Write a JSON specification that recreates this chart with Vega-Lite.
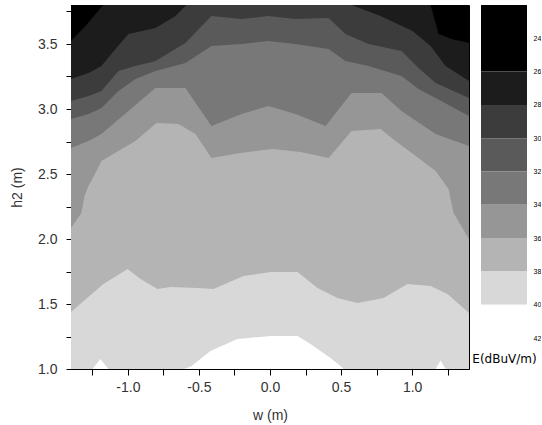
{
  "$schema": "https://vega.github.io/schema/vega-lite/v6.json",
  "background": "white",
  "padding": {"left": 10, "top": 3, "right": 0, "bottom": 0},
  "spacing": 12,
  "bounds": "flush",
  "config": {
    "font": "Liberation Sans",
    "axis": {"grid": false, "labelFont": "Liberation Sans", "titleFont": "Liberation Sans", "titleFontWeight": "normal", "labelColor": "#333", "titleColor": "#333", "domainColor": "#000", "tickColor": "#000"}
  },
  "datasets": {
    "bounds": [
      {"level": 24, "w": -1.4, "h": 3.8}, {"level": 24, "w": 1.4, "h": 3.8},
      {"level": 26, "w": -1.4, "h": 3.523}, {"level": 26, "w": -1.298, "h": 3.638}, {"level": 26, "w": -1.186, "h": 3.785}, {"level": 26, "w": -1.172, "h": 3.8}, {"level": 26, "w": 1.13, "h": 3.8}, {"level": 26, "w": 1.186, "h": 3.577}, {"level": 26, "w": 1.277, "h": 3.538}, {"level": 26, "w": 1.4, "h": 3.508},
      {"level": 28, "w": -1.4, "h": 3.231}, {"level": 28, "w": -1.277, "h": 3.277}, {"level": 28, "w": -1.186, "h": 3.331}, {"level": 28, "w": -1.087, "h": 3.462}, {"level": 28, "w": -0.996, "h": 3.577}, {"level": 28, "w": -0.806, "h": 3.623}, {"level": 28, "w": -0.665, "h": 3.715}, {"level": 28, "w": -0.588, "h": 3.8}, {"level": 28, "w": 0.574, "h": 3.8}, {"level": 28, "w": 0.778, "h": 3.715}, {"level": 28, "w": 1.003, "h": 3.6}, {"level": 28, "w": 1.13, "h": 3.485}, {"level": 28, "w": 1.235, "h": 3.331}, {"level": 28, "w": 1.4, "h": 3.215},
      {"level": 30, "w": -1.4, "h": 3.062}, {"level": 30, "w": -1.277, "h": 3.1}, {"level": 30, "w": -1.186, "h": 3.138}, {"level": 30, "w": -1.066, "h": 3.292}, {"level": 30, "w": -0.947, "h": 3.331}, {"level": 30, "w": -0.806, "h": 3.369}, {"level": 30, "w": -0.595, "h": 3.508}, {"level": 30, "w": -0.412, "h": 3.715}, {"level": 30, "w": -0.201, "h": 3.692}, {"level": 30, "w": -0.011, "h": 3.715}, {"level": 30, "w": 0.179, "h": 3.692}, {"level": 30, "w": 0.412, "h": 3.7}, {"level": 30, "w": 0.531, "h": 3.577}, {"level": 30, "w": 0.693, "h": 3.5}, {"level": 30, "w": 0.925, "h": 3.446}, {"level": 30, "w": 1.045, "h": 3.315}, {"level": 30, "w": 1.165, "h": 3.2}, {"level": 30, "w": 1.4, "h": 3.085},
      {"level": 32, "w": -1.4, "h": 2.923}, {"level": 32, "w": -1.277, "h": 2.962}, {"level": 32, "w": -1.186, "h": 3.008}, {"level": 32, "w": -1.066, "h": 3.138}, {"level": 32, "w": -0.947, "h": 3.231}, {"level": 32, "w": -0.806, "h": 3.292}, {"level": 32, "w": -0.595, "h": 3.354}, {"level": 32, "w": -0.412, "h": 3.485}, {"level": 32, "w": -0.201, "h": 3.5}, {"level": 32, "w": -0.011, "h": 3.523}, {"level": 32, "w": 0.179, "h": 3.5}, {"level": 32, "w": 0.412, "h": 3.462}, {"level": 32, "w": 0.531, "h": 3.369}, {"level": 32, "w": 0.693, "h": 3.331}, {"level": 32, "w": 0.925, "h": 3.254}, {"level": 32, "w": 1.045, "h": 3.154}, {"level": 32, "w": 1.165, "h": 3.085}, {"level": 32, "w": 1.4, "h": 2.946},
      {"level": 34, "w": -1.4, "h": 2.7}, {"level": 34, "w": -1.277, "h": 2.754}, {"level": 34, "w": -1.186, "h": 2.808}, {"level": 34, "w": -0.996, "h": 2.985}, {"level": 34, "w": -0.806, "h": 3.162}, {"level": 34, "w": -0.595, "h": 3.162}, {"level": 34, "w": -0.412, "h": 2.869}, {"level": 34, "w": -0.201, "h": 2.962}, {"level": 34, "w": -0.011, "h": 3.023}, {"level": 34, "w": 0.179, "h": 2.962}, {"level": 34, "w": 0.391, "h": 2.869}, {"level": 34, "w": 0.574, "h": 3.123}, {"level": 34, "w": 0.785, "h": 3.123}, {"level": 34, "w": 0.925, "h": 2.985}, {"level": 34, "w": 1.165, "h": 2.808}, {"level": 34, "w": 1.4, "h": 2.715},
      {"level": 36, "w": -1.4, "h": 2.085}, {"level": 36, "w": -1.327, "h": 2.2}, {"level": 36, "w": -1.305, "h": 2.331}, {"level": 36, "w": -1.277, "h": 2.408}, {"level": 36, "w": -1.228, "h": 2.508}, {"level": 36, "w": -1.186, "h": 2.6}, {"level": 36, "w": -0.947, "h": 2.754}, {"level": 36, "w": -0.799, "h": 2.892}, {"level": 36, "w": -0.644, "h": 2.885}, {"level": 36, "w": -0.524, "h": 2.808}, {"level": 36, "w": -0.412, "h": 2.623}, {"level": 36, "w": -0.208, "h": 2.662}, {"level": 36, "w": 0.018, "h": 2.692}, {"level": 36, "w": 0.215, "h": 2.669}, {"level": 36, "w": 0.412, "h": 2.623}, {"level": 36, "w": 0.574, "h": 2.831}, {"level": 36, "w": 0.778, "h": 2.846}, {"level": 36, "w": 0.883, "h": 2.754}, {"level": 36, "w": 1.045, "h": 2.623}, {"level": 36, "w": 1.165, "h": 2.523}, {"level": 36, "w": 1.256, "h": 2.385}, {"level": 36, "w": 1.291, "h": 2.2}, {"level": 36, "w": 1.4, "h": 2.0},
      {"level": 38, "w": -1.4, "h": 1.438}, {"level": 38, "w": -1.172, "h": 1.654}, {"level": 38, "w": -1.002, "h": 1.769}, {"level": 38, "w": -0.911, "h": 1.692}, {"level": 38, "w": -0.792, "h": 1.615}, {"level": 38, "w": -0.7, "h": 1.631}, {"level": 38, "w": -0.51, "h": 1.623}, {"level": 38, "w": -0.398, "h": 1.615}, {"level": 38, "w": -0.186, "h": 1.715}, {"level": 38, "w": 0.004, "h": 1.746}, {"level": 38, "w": 0.194, "h": 1.746}, {"level": 38, "w": 0.334, "h": 1.623}, {"level": 38, "w": 0.475, "h": 1.546}, {"level": 38, "w": 0.616, "h": 1.508}, {"level": 38, "w": 0.799, "h": 1.546}, {"level": 38, "w": 0.968, "h": 1.654}, {"level": 38, "w": 1.13, "h": 1.638}, {"level": 38, "w": 1.249, "h": 1.577}, {"level": 38, "w": 1.4, "h": 1.431},
      {"level": 40, "w": -1.4, "h": 1.0}, {"level": 40, "w": -1.249, "h": 1.0}, {"level": 40, "w": -1.193, "h": 1.077}, {"level": 40, "w": -1.137, "h": 1.0}, {"level": 40, "w": -0.602, "h": 1.0}, {"level": 40, "w": -0.552, "h": 1.023}, {"level": 40, "w": -0.419, "h": 1.138}, {"level": 40, "w": -0.229, "h": 1.231}, {"level": 40, "w": 0.004, "h": 1.254}, {"level": 40, "w": 0.194, "h": 1.254}, {"level": 40, "w": 0.285, "h": 1.192}, {"level": 40, "w": 0.426, "h": 1.085}, {"level": 40, "w": 0.496, "h": 1.023}, {"level": 40, "w": 0.517, "h": 1.0}, {"level": 40, "w": 1.165, "h": 1.0}, {"level": 40, "w": 1.2, "h": 1.065}, {"level": 40, "w": 1.235, "h": 1.0}, {"level": 40, "w": 1.4, "h": 1.0}
    ],
    "legendbands": [
      {"level": 24, "lo": 22, "hi": 26}, {"level": 26, "lo": 26, "hi": 28}, {"level": 28, "lo": 28, "hi": 30}, {"level": 30, "lo": 30, "hi": 32}, {"level": 32, "lo": 32, "hi": 34}, {"level": 34, "lo": 34, "hi": 36}, {"level": 36, "lo": 36, "hi": 38}, {"level": 38, "lo": 38, "hi": 40}, {"level": 40, "lo": 40, "hi": 42}
    ]
  },
  "hconcat": [
    {
      "width": 398,
      "height": 364,
      "view": {"stroke": "#000", "strokeWidth": 1},
      "data": {"name": "bounds"},
      "mark": {"type": "area", "interpolate": "linear", "clip": true},
      "encoding": {
        "x": {
          "field": "w", "type": "quantitative",
          "scale": {"domain": [-1.4, 1.4], "nice": false, "zero": false},
          "axis": {
            "title": "w (m)",
            "values": [-1.25, -1, -0.75, -0.5, -0.25, 0, 0.25, 0.5, 0.75, 1, 1.25],
            "labelExpr": "round(datum.value*2) == datum.value*2 ? replace(format(datum.value, '.1f'), '\u2212', '-') : ''",
            "tickSize": 6, "labelPadding": 5, "titlePadding": 14,
            "labelFontSize": 14, "titleFontSize": 14,
            "labelOverlap": false, "labelFlush": false
          }
        },
        "y": {
          "field": "h", "type": "quantitative",
          "scale": {"domain": [1.0, 3.8], "nice": false, "zero": false},
          "axis": {
            "title": "h2 (m)",
            "values": [1, 1.25, 1.5, 1.75, 2, 2.25, 2.5, 2.75, 3, 3.25, 3.5, 3.75],
            "labelExpr": "round(datum.value*2) == datum.value*2 ? replace(format(datum.value, '.1f'), '\u2212', '-') : ''",
            "tickSize": 5, "labelPadding": 9, "titlePadding": 13,
            "labelFontSize": 14, "titleFontSize": 14,
            "labelOverlap": false, "labelFlush": false
          }
        },
        "y2": {"datum": 1},
        "color": {
          "field": "level", "type": "ordinal",
          "scale": {"domain": [24, 26, 28, 30, 32, 34, 36, 38, 40], "range": ["#000000", "#1c1c1c", "#3c3c3c", "#5a5a5a", "#787878", "#969696", "#b4b4b4", "#d8d8d8", "#ffffff"]},
          "legend": null
        }
      }
    },
    {
      "width": 46,
      "height": 333,
      "view": {"stroke": null},
      "data": {"name": "legendbands"},
      "mark": {"type": "rect"},
      "encoding": {
        "y": {
          "field": "lo", "type": "quantitative",
          "scale": {"domain": [22, 42], "reverse": true, "nice": false, "zero": false},
          "axis": {
            "orient": "right", "title": null,
            "values": [24, 26, 28, 30, 32, 34, 36, 38, 40, 42],
            "ticks": false, "domain": false, "labelFontSize": 7, "labelPadding": 6,
            "labelColor": "#000", "labelFlush": false, "labelOverlap": false
          }
        },
        "y2": {"field": "hi"},
        "x": {
          "datum": 0, "type": "quantitative",
          "scale": {"domain": [0, 1], "nice": false, "zero": false},
          "axis": {"title": "E(dBuV/m)", "labels": false, "ticks": false, "domain": false, "titlePadding": 15, "titleFontSize": 12, "titleFont": "DejaVu Sans", "titleColor": "#000"}
        },
        "x2": {"datum": 1},
        "color": {
          "field": "level", "type": "ordinal",
          "scale": {"domain": [24, 26, 28, 30, 32, 34, 36, 38, 40], "range": ["#000000", "#1c1c1c", "#3c3c3c", "#5a5a5a", "#787878", "#969696", "#b4b4b4", "#d8d8d8", "#ffffff"]},
          "legend": null
        }
      }
    }
  ]
}
